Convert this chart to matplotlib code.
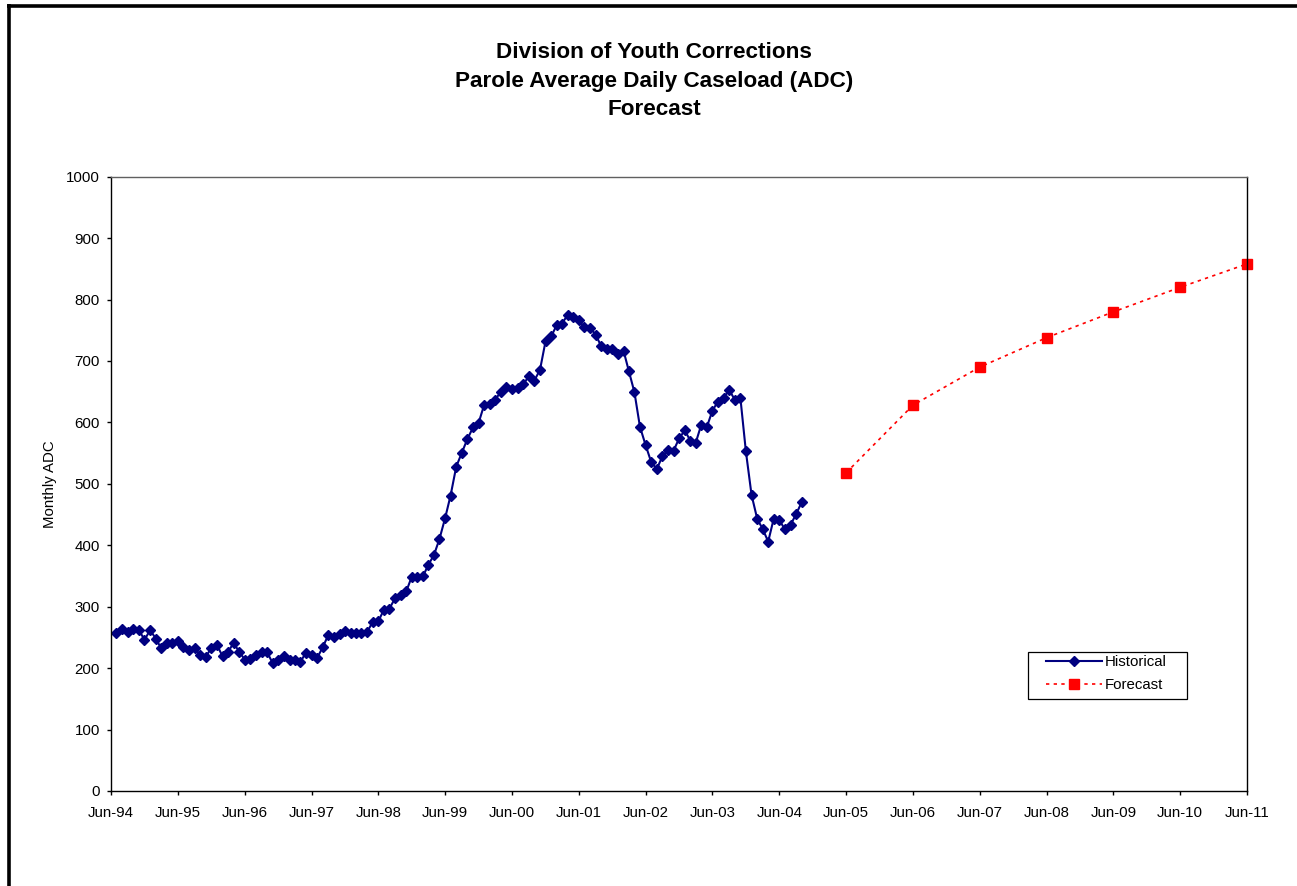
import datetime as dt
import numpy as np
import matplotlib
matplotlib.use('Agg')
import matplotlib.pyplot as plt
import matplotlib.dates as mdates
from matplotlib.patches import Rectangle
from matplotlib.lines import Line2D

plt.rcParams['font.family'] = ['Liberation Sans', 'DejaVu Sans']

# monthly historical ADC, Jul-94 .. Oct-04
hist_start = '1994-07'
hist_end = '2004-11'
hist_adc = [258, 264, 259, 263, 262, 246, 262, 248, 233, 241, 241, 244,
            235, 229, 232, 222, 218, 233, 238, 219, 226, 241, 227, 214,
            215, 221, 227, 226, 208, 213, 219, 213, 214, 210, 225, 222,
            216, 234, 254, 251, 255, 260, 257, 257, 257, 259, 275, 276,
            295, 297, 314, 319, 325, 349, 349, 350, 368, 384, 410, 444,
            481, 528, 551, 573, 592, 599, 629, 630, 637, 650, 657, 654,
            656, 662, 675, 668, 686, 732, 740, 759, 761, 775, 771, 766,
            755, 754, 743, 724, 719, 719, 712, 716, 684, 649, 593, 563,
            536, 524, 545, 555, 554, 574, 587, 570, 566, 596, 592, 619,
            634, 640, 653, 637, 640, 553, 482, 443, 427, 406, 443, 441,
            426, 433, 451, 470]

fc_years = [2005, 2006, 2007, 2008, 2009, 2010, 2011]
fc_adc = [518, 628, 690, 738, 780, 820, 858]

tick_years = list(range(1994, 2012))
yticks = list(range(0, 1001, 100))

hist_dates = np.arange(hist_start, hist_end, dtype='datetime64[M]').astype('datetime64[D]').astype(dt.date)
fc_dates = [dt.date(y, 6, 1) for y in fc_years]

W, H = 1297, 886
fig = plt.figure(figsize=(W / 100, H / 100), dpi=100)
ax = fig.add_axes([111 / W, 1 - 791 / H, 1136 / W, 614.3 / H])

ax.plot(hist_dates, hist_adc, color='#000080', lw=1.5, marker='D', ms=4.6,
        mfc='#000080', mec='#000080', label='Historical')
ax.plot(fc_dates, fc_adc, color='#ff0000', lw=1.2, ls=(0, (2, 2.6)), marker='s', ms=6.8,
        mfc='#ff0000', mec='#ff0000', label='Forecast', clip_on=False)

ax.set_xlim(dt.date(1994, 6, 1), dt.date(2011, 6, 1))
ax.set_ylim(0, 1000)
ax.set_xticks([dt.date(y, 6, 1) for y in tick_years])
ax.xaxis.set_major_formatter(mdates.DateFormatter('%b-%y'))
ax.set_yticks(yticks)
ax.tick_params(axis='both', direction='out', length=3, width=1, labelsize=10.8, colors='black')
ax.tick_params(axis='x', pad=7.8)
ax.tick_params(axis='y', pad=5)

for s in ['left', 'bottom', 'right']:
    ax.spines[s].set_color('black')
    ax.spines[s].set_linewidth(1)
ax.spines['top'].set_color('#606060')
ax.spines['top'].set_linewidth(1)

ax.set_ylabel('Monthly ADC', fontsize=10.8)
ax.yaxis.set_label_coords(-0.0475, 0.5)

# title, three lines
title_lines = ['Division of Youth Corrections', 'Parole Average Daily Caseload (ADC)', 'Forecast']
for txt, yc in zip(title_lines, [52.5, 81, 109.5]):
    fig.text(654 / W, 1 - yc / H, txt, ha='center', va='center', fontsize=16.2, fontweight='bold')

# legend, frame drawn separately
leg = ax.legend(loc='upper left', bbox_to_anchor=(1046 / W, 1 - 655 / H), bbox_transform=fig.transFigure,
                frameon=False, borderpad=0, borderaxespad=0, handlelength=3.75, handletextpad=0.2,
                labelspacing=0.6, fontsize=10.8)
fig.add_artist(Rectangle((1028 / W, 1 - 699 / H), 159 / W, 47 / H, transform=fig.transFigure,
                         fill=False, edgecolor='black', linewidth=0.9))

# page frame lines
fig.add_artist(Line2D([7 / W, 1.0], [1 - 5.5 / H, 1 - 5.5 / H], transform=fig.transFigure,
                      color='black', linewidth=2.6, solid_capstyle='butt'))
fig.add_artist(Line2D([9 / W, 9 / W], [0, 1 - 4 / H], transform=fig.transFigure,
                      color='black', linewidth=2.6, solid_capstyle='butt'))

fig.savefig('out.png', dpi=100)
